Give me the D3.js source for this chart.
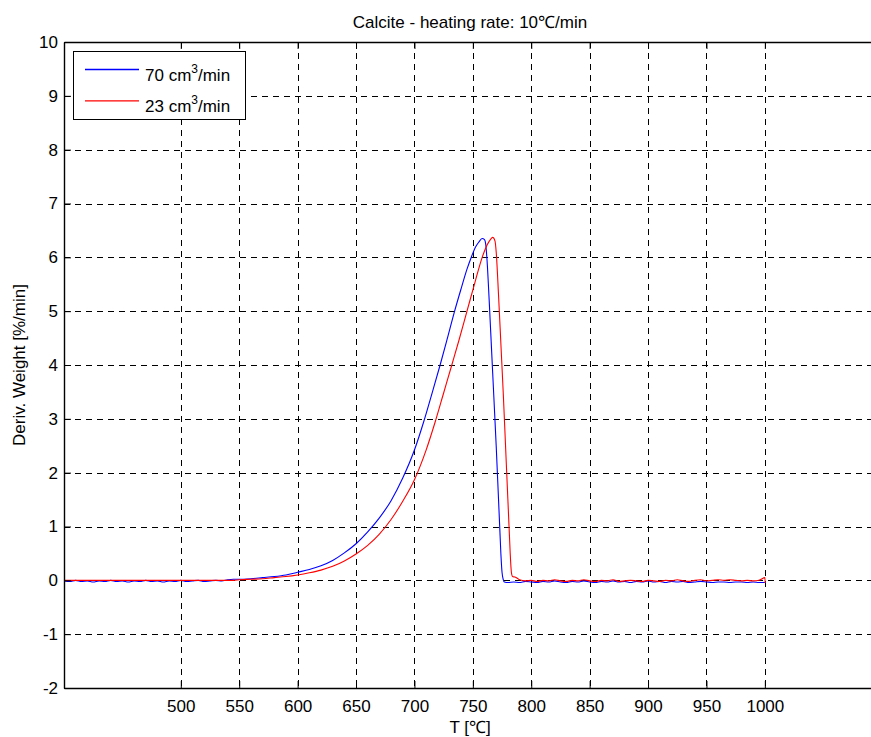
<!DOCTYPE html>
<html>
<head>
<meta charset="utf-8">
<script src="https://cdn.jsdelivr.net/npm/d3@7/dist/d3.min.js"></script>
<style>
  html, body { margin: 0; padding: 0; background: #fff; overflow: hidden; }
  svg { display: block; }
  text { font-family: "Liberation Sans", Arial, sans-serif; fill: #000; }
</style>
</head>
<body>
<svg id="chart" width="871" height="737"></svg>
<script>
// ---- data ----
const title = "Calcite - heating rate: 10\u2103/min";
const xLabel = "T [\u2103]";
const yLabel = "Deriv. Weight [%/min]";
const xTicks = [500, 550, 600, 650, 700, 750, 800, 850, 900, 950, 1000];
const yTicks = [-2, -1, 0, 1, 2, 3, 4, 5, 6, 7, 8, 9, 10];
const seriesNames = ["70", "23"];
const seriesColors = ["#0000ff", "#ff0000"];

const tempBlue = [400,405,410,415,420,425,430,435,440,445,450,455,460,465,470,475,480,485,490,495,
  500,505,510,515,520,525,530,535,540,545,550,560,570,580,590,600,610,620,630,640,650,660,670,680,690,
  700,708,715,722,728,734,740,745,749,752,755,758,760,761,762,764,766,768,770,772,773,774,775,776,777,
  780,785,790,795,800,805,810,815,820,825,830,835,840,845,850,855,860,865,870,875,880,885,890,895,
  900,905,910,915,920,925,930,935,940,945,950,955,960,965,970,975,980,985,990,995,1000];
const dtgBlue = [-0.01,-0.02,0.0,-0.02,-0.01,-0.03,-0.01,-0.02,0.0,-0.02,-0.01,-0.03,-0.01,-0.02,0.0,-0.02,-0.01,-0.03,-0.01,-0.02,
  0.0,-0.02,-0.01,0.0,-0.02,-0.01,0.0,-0.01,0.01,0.02,0.02,0.03,0.05,0.07,0.10,0.15,0.20,0.27,0.37,0.51,0.68,0.90,1.16,1.48,1.90,
  2.42,2.95,3.47,4.0,4.48,4.97,5.42,5.78,6.02,6.18,6.28,6.35,6.33,6.25,6.0,5.2,4.3,3.4,2.5,1.5,1.0,0.5,0.15,0.02,-0.03,
  -0.04,-0.03,-0.04,-0.02,-0.03,-0.04,-0.02,-0.03,-0.01,-0.03,-0.04,-0.02,-0.03,-0.01,-0.03,-0.04,-0.02,-0.03,-0.01,-0.03,-0.02,-0.04,-0.02,-0.03,
  -0.01,-0.03,-0.02,-0.04,-0.02,-0.03,-0.02,-0.04,-0.03,-0.02,-0.03,-0.04,-0.03,-0.03,-0.04,-0.03,-0.03,-0.04,-0.03,-0.04,-0.04];

const tempRed = [400,410,420,430,440,450,460,470,480,490,500,510,520,530,540,545,550,560,570,580,590,600,610,620,630,640,650,660,670,680,690,700,
  710,718,725,732,738,745,752,758,762,765,767,769,770,772,774,776,778,780,781,782,783,784,786,788,
  790,795,800,805,810,815,820,825,830,835,840,845,850,855,860,865,870,875,880,885,890,895,
  900,905,910,915,920,925,930,935,940,945,950,955,960,965,970,975,980,985,990,995,1000,1000.3];
const dtgRed = [0.0,0.0,0.0,0.0,0.0,0.0,0.0,0.0,0.0,0.0,0.0,0.0,0.0,0.0,0.0,0.0,0.01,0.02,0.03,0.05,0.07,0.10,0.14,0.19,0.26,0.36,0.49,0.65,0.86,1.13,1.47,1.87,
  2.42,2.96,3.48,4.0,4.45,5.0,5.55,6.0,6.22,6.33,6.37,6.3,6.1,5.3,4.4,3.5,2.5,1.5,1.0,0.5,0.15,0.07,0.06,0.04,
  0.01,-0.01,0.0,-0.02,0.0,-0.01,0.01,-0.01,-0.02,0.0,-0.01,0.01,-0.01,-0.02,0.0,-0.01,0.01,-0.02,-0.01,0.0,-0.01,-0.02,
  0.0,-0.01,-0.02,0.0,-0.01,0.01,-0.01,-0.02,0.0,0.01,-0.01,0.0,0.01,0.0,0.01,0.0,-0.01,0.0,-0.01,0.0,0.05,-0.05];

// ---- layout ----
const svg = d3.select("#chart");
const mLeft = 64, mRight = 884, mTop = 42, mBottom = 688;
const x = d3.scaleLinear().domain([400, 1102]).range([mLeft, mRight]);
const y = d3.scaleLinear().domain([-2, 10]).range([mBottom, mTop]);
const fontSize = 17;
const fmt = d => String(d);
const centerX = 470;

// grid
const grid = svg.append("g").attr("stroke", "#000").attr("stroke-width", 1)
  .attr("stroke-dasharray", "6,5").attr("shape-rendering", "crispEdges");
grid.selectAll("line.v").data(xTicks).join("line").attr("class", "v")
  .attr("x1", d => Math.round(x(d)) + 0.5).attr("x2", d => Math.round(x(d)) + 0.5)
  .attr("y1", mTop).attr("y2", mBottom);
grid.selectAll("line.h").data(yTicks.filter(d => d > -2 && d < 10)).join("line").attr("class", "h")
  .attr("x1", mLeft).attr("x2", mRight)
  .attr("y1", d => Math.round(y(d)) + 0.5).attr("y2", d => Math.round(y(d)) + 0.5);

// series
const seriesData = [
  d3.zip(tempBlue, dtgBlue),
  d3.zip(tempRed, dtgRed)
];
const line = d3.line().curve(d3.curveMonotoneX).x(d => x(d[0])).y(d => y(d[1]));
seriesData.forEach((s, i) => {
  svg.append("path").datum(s).attr("d", line)
    .attr("fill", "none").attr("stroke", seriesColors[i]).attr("stroke-width", 1.1)
    .attr("stroke-linejoin", "round");
});

// axes
const tickLen = 7;
const axB = d3.axisBottom(x).tickValues(xTicks).tickFormat(fmt).tickSizeInner(-tickLen).tickSizeOuter(0).tickPadding(12);
const axT = d3.axisTop(x).tickValues(xTicks).tickSizeInner(-tickLen).tickSizeOuter(0).tickFormat("");
const axL = d3.axisLeft(y).tickValues(yTicks).tickFormat(fmt).tickSizeInner(-tickLen).tickSizeOuter(0).tickPadding(6);

function style(g) {
  g.selectAll("path.domain").attr("stroke", "#000").attr("stroke-width", 1.4);
  g.selectAll(".tick line").attr("stroke", "#000").attr("stroke-width", 1);
  g.selectAll(".tick text").attr("font-size", fontSize)
    .attr("font-family", "'Liberation Sans', Arial, sans-serif").attr("fill", "#000");
}
svg.append("g").attr("transform", `translate(0,${mBottom})`).call(axB).call(style);
svg.append("g").attr("transform", `translate(0,${mTop})`).call(axT).call(style);
svg.append("g").attr("transform", `translate(${mLeft},0)`).call(axL).call(style);

// title & labels
svg.append("text").attr("x", centerX).attr("y", 28)
  .attr("text-anchor", "middle").attr("font-size", fontSize).text(title);
svg.append("text").attr("x", centerX).attr("y", 733)
  .attr("text-anchor", "middle").attr("font-size", fontSize).text(xLabel);
svg.append("text").attr("transform", `translate(25,${(mTop + mBottom) / 2}) rotate(-90)`)
  .attr("text-anchor", "middle").attr("font-size", fontSize).text(yLabel);

// legend
const lg = svg.append("g");
lg.append("rect").attr("x", 73.5).attr("y", 51.5).attr("width", 172).attr("height", 68)
  .attr("fill", "#fff").attr("stroke", "#000").attr("stroke-width", 1);
seriesNames.forEach((n, i) => {
  const ly = 69.5 + i * 31.3;
  lg.append("line").attr("x1", 85).attr("x2", 139).attr("y1", ly).attr("y2", ly)
    .attr("stroke", seriesColors[i]).attr("stroke-width", 1.3);
  const t = lg.append("text").attr("x", 145).attr("y", ly + 11).attr("font-size", fontSize);
  t.append("tspan").text(n + " cm");
  t.append("tspan").attr("font-size", 12).attr("dy", -8).text("3");
  t.append("tspan").attr("dy", 8).text("/min");
});
</script>
</body>
</html>
